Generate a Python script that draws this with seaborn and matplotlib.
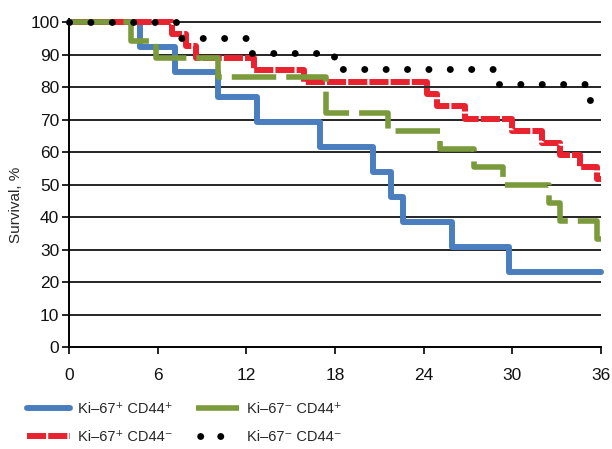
import matplotlib
matplotlib.use("Agg")
import matplotlib.pyplot as plt
import seaborn as sns
import pandas as pd
from matplotlib.lines import Line2D

# ---- data (months, survival %) ----
blue_t = [0, 4.8, 7.2, 10.1, 12.7, 17.0, 20.6, 21.8, 22.6, 25.9, 29.8, 36]
blue_s = [100, 92.3, 84.6, 76.9, 69.2, 61.5, 53.8, 46.2, 38.5, 30.8, 23.1, 23.1]

red_t = [0, 7.0, 7.9, 8.6, 12.5, 15.9, 24.2, 24.9, 26.8, 30.0, 32.0, 33.2, 34.6, 35.7, 36]
red_s = [100, 96.3, 92.6, 88.9, 85.2, 81.5, 77.8, 74.1, 70.4, 66.7, 63.0, 59.3, 55.6, 51.9, 51.9]

green_t = [0, 4.2, 5.9, 10.1, 17.4, 21.6, 25.1, 27.4, 29.4, 32.5, 33.2, 35.7, 36]
green_s = [100, 94.4, 88.9, 83.3, 72.2, 66.7, 61.1, 55.6, 50.0, 44.4, 38.9, 33.3, 33.3]

black_t = [0, 7.5, 12.3, 17.9, 28.8, 35.1, 36]
black_s = [100, 95.2, 90.5, 85.7, 81.0, 76.2, 76.2]

labels = ["Ki–67⁺ CD44⁺", "Ki–67⁺ CD44⁻", "Ki–67⁻ CD44⁺", "Ki–67⁻ CD44⁻"]
x_ticks = [0, 6, 12, 18, 24, 30, 36]
y_ticks = [0, 10, 20, 30, 40, 50, 60, 70, 80, 90, 100]
y_label = "Survival, %"

sns.set_style("white")
FAM = ["Liberation Sans Narrow", "Liberation Sans", "DejaVu Sans"]
plt.rcParams["font.family"] = FAM

fig = plt.figure(figsize=(6.12, 4.49), dpi=100)
ax = fig.add_axes([69 / 612, 1 - 347.3 / 449, (601 - 69) / 612, (347.3 - 19.05) / 449])

# gridlines
for yv in y_ticks[1:]:
    ax.axhline(yv, color="black", lw=1.2, zorder=1)

series = [
    (blue_t, blue_s, labels[0], dict(color="#4a7ebf", lw=4.3, linestyle="-")),
    (red_t, red_s, labels[1], dict(color="#e8222e", lw=4.3, linestyle=(0, (3.2, 0.35)))),
    (green_t, green_s, labels[2], dict(color="#7a9a3c", lw=4.0, linestyle=(0, (8, 1.8)))),
    (black_t, black_s, labels[3], dict(color="black", lw=5.0, linestyle=(0, (0.01, 3.07)),
                                       dash_capstyle="round")),
]

handles = []
for t, s, lab, kw in series:
    df = pd.DataFrame({"time": t, "survival": s})
    sns.lineplot(data=df, x="time", y="survival", drawstyle="steps-post",
                 sort=False, errorbar=None, ax=ax, zorder=3, **kw)
    ln = ax.lines[-1]
    ln.set_clip_on(False)
    hkw = dict(kw)
    if lab == labels[3]:
        # legend sample shows just two dots
        hkw["linestyle"] = (7.3, (0.01, 2.88, 0.01, 5.0))
    handles.append(Line2D([], [], **hkw))

if ax.get_legend() is not None:
    ax.get_legend().remove()

ax.set_xlim(0, 36)
ax.set_ylim(0, 101)
ax.set_xticks(x_ticks)
ax.set_yticks(y_ticks)
ax.set_xticklabels([str(v) for v in x_ticks], fontsize=12.5)
ax.set_yticklabels([str(v) for v in y_ticks], fontsize=12.5)
ax.tick_params(axis="both", direction="out", length=5, width=1.2, color="black",
               labelcolor="#111111", pad=2, left=True, bottom=True)
ax.tick_params(axis="x", pad=10)
for sp in ["top", "right"]:
    ax.spines[sp].set_visible(False)
for sp in ["left", "bottom"]:
    ax.spines[sp].set_color("black")
    ax.spines[sp].set_linewidth(1.4)
ax.set_xlabel("")
ax.set_ylabel(y_label, fontsize=11)
ax.yaxis.set_label_coords(-0.086, 0.433)

fig.legend(handles, labels, ncol=2, loc="upper left", bbox_to_anchor=(27 / 612, 1 - 402 / 449),
           frameon=False, fontsize=10.5, handlelength=2.95, handletextpad=0.55,
           columnspacing=1.6, labelspacing=0.95, borderpad=0, borderaxespad=0)

fig.savefig("out.png", dpi=100)
